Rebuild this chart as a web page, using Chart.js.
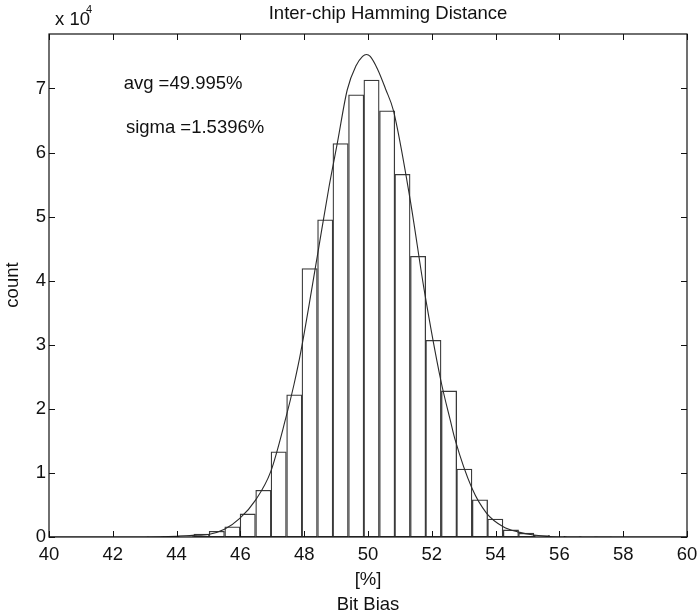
<!DOCTYPE html>
<html lang="en">
<head>
    <meta charset="UTF-8">
    <title>Inter-chip Hamming Distance</title>
    <script src="https://cdn.jsdelivr.net/npm/chart.js"></script>
    <style>
        body { margin: 0; background: #fff; }
        canvas { display: block; }
    </style>
</head>
<body>
    <canvas id="chart" width="700" height="616"></canvas>

    <script>
        // histogram bins (bin centre in %, count)
        const binCenters = [43.32, 43.81, 44.29, 44.78, 45.26, 45.75, 46.23, 46.72, 47.20, 47.69,
                            48.17, 48.66, 49.14, 49.63, 50.11, 50.60, 51.08, 51.57, 52.05, 52.54,
                            53.02, 53.51, 53.99, 54.48, 54.96, 55.45, 55.93, 56.42, 56.90, 57.39];
        const binCounts = [30, 80, 200, 450, 900, 1600, 3600, 7300, 13300, 22200,
                           41900, 49500, 61400, 69000, 71300, 66500, 56600, 43800, 30700, 22800,
                           10600, 5800, 2800, 1100, 600, 250, 100, 50, 20, 10];

        // fitted curve
        const fitX = [40, 43, 44, 44.5, 45.0, 45.5, 45.98, 46.48, 46.95, 47.42, 47.68, 47.89,
                      48.41, 48.78, 49.04, 49.35, 49.62, 49.83, 49.95, 50.07, 50.3, 50.56, 50.80,
                      51.32, 51.76, 52.28, 52.6, 52.73, 53.26, 53.72, 54.24, 54.69, 55.2, 56, 60];
        const fitY = [0, 0, 100, 250, 400, 1200, 2900, 5800, 10200, 18500, 23800, 28800,
                      43800, 54700, 61500, 69800, 73500, 75000, 75300, 75000, 73000, 69800, 66500,
                      52700, 38600, 24500, 17800, 15200, 7600, 3700, 1600, 800, 300, 0, 0];

        const xTicks = [40, 42, 44, 46, 48, 50, 52, 54, 56, 58, 60];
        const yTicks = [0, 10000, 20000, 30000, 40000, 50000, 60000, 70000];

        const titleText = 'Inter-chip Hamming Distance';
        const avgText = 'avg =49.995%';
        const sigmaText = 'sigma =1.5396%';

        const FONT = '"Liberation Sans", Arial, Helvetica, sans-serif';

        // box, inward ticks and all loose texts
        const matlabAxes = {
            id: 'matlabAxes',
            afterDraw(chart) {
                const ctx = chart.ctx;
                const a = chart.chartArea;
                const xs = chart.scales.x;
                const ys = chart.scales.y;
                ctx.save();
                ctx.strokeStyle = '#111';
                ctx.lineWidth = 1.2;
                ctx.strokeRect(a.left, a.top, a.right - a.left, a.bottom - a.top);

                ctx.lineWidth = 1;
                ctx.beginPath();
                xs.ticks.forEach(t => {
                    const px = Math.round(xs.getPixelForValue(t.value)) + 0.5;
                    ctx.moveTo(px, a.bottom); ctx.lineTo(px, a.bottom - 6);
                    ctx.moveTo(px, a.top); ctx.lineTo(px, a.top + 6);
                });
                ys.ticks.forEach(t => {
                    const py = Math.round(ys.getPixelForValue(t.value)) + 0.5;
                    ctx.moveTo(a.left, py); ctx.lineTo(a.left + 6, py);
                    ctx.moveTo(a.right, py); ctx.lineTo(a.right - 6, py);
                });
                ctx.stroke();

                ctx.fillStyle = '#111';
                ctx.font = '18.5px ' + FONT;
                ctx.textBaseline = 'middle';
                ctx.textAlign = 'center';
                ctx.fillText(titleText, 388, 14);
                ctx.fillText('[%]', (a.left + a.right) / 2, 580);
                ctx.fillText('Bit Bias', (a.left + a.right) / 2, 605);

                ctx.textAlign = 'left';
                ctx.textBaseline = 'alphabetic';
                ctx.fillText('x 10', 55, 25);
                ctx.font = '11px ' + FONT;
                ctx.fillText('4', 86, 13);

                ctx.font = '18.5px ' + FONT;
                ctx.fillText(avgText, xs.getPixelForValue(42.34), ys.getPixelForValue(69950));
                ctx.fillText(sigmaText, xs.getPixelForValue(42.41), ys.getPixelForValue(63050));

                ctx.translate(13, 285);
                ctx.rotate(-Math.PI / 2);
                ctx.textAlign = 'center';
                ctx.textBaseline = 'middle';
                ctx.fillText('count', 0, 0);
                ctx.restore();
            }
        };

        new Chart(document.getElementById('chart'), {
            type: 'bar',
            data: {
                datasets: [{
                    type: 'line',
                    data: fitX.map((x, i) => ({ x: x, y: fitY[i] })),
                    borderColor: '#2a2a2a',
                    borderWidth: 1.1,
                    pointRadius: 0,
                    cubicInterpolationMode: 'monotone',
                    fill: false,
                    order: 1
                }, {
                    data: binCenters.map((x, i) => ({ x: x, y: binCounts[i] })),
                    backgroundColor: '#ffffff',
                    borderColor: '#3a3a3a',
                    borderWidth: 1.3,
                    borderSkipped: false,
                    categoryPercentage: 1.0,
                    barPercentage: 1.0,
                    order: 2
                }]
            },
            options: {
                responsive: false,
                animation: false,
                layout: { padding: { top: 34, right: 13, left: 0, bottom: 0 } },
                plugins: { legend: { display: false }, tooltip: { enabled: false } },
                scales: {
                    x: {
                        type: 'linear',
                        min: 40,
                        max: 60,
                        offset: false,
                        afterBuildTicks: s => { s.ticks = xTicks.map(v => ({ value: v })); },
                        afterFit: s => { s.height = 79; s.paddingLeft = 0; s.paddingRight = 0; },
                        grid: { display: false, drawTicks: false },
                        border: { display: false },
                        ticks: {
                            padding: 7,
                            color: '#111',
                            maxRotation: 0,
                            font: { family: FONT, size: 18.5 }
                        }
                    },
                    y: {
                        min: 0,
                        max: 78500,
                        afterBuildTicks: s => { s.ticks = yTicks.map(v => ({ value: v })); },
                        afterFit: s => { s.width = 49; s.paddingTop = 0; s.paddingBottom = 0; },
                        grid: { display: false, drawTicks: false },
                        border: { display: false },
                        ticks: {
                            padding: 3,
                            color: '#111',
                            font: { family: FONT, size: 18.5 },
                            callback: v => String(v / 10000)
                        }
                    }
                }
            },
            plugins: [matlabAxes]
        });
    </script>
</body>
</html>
